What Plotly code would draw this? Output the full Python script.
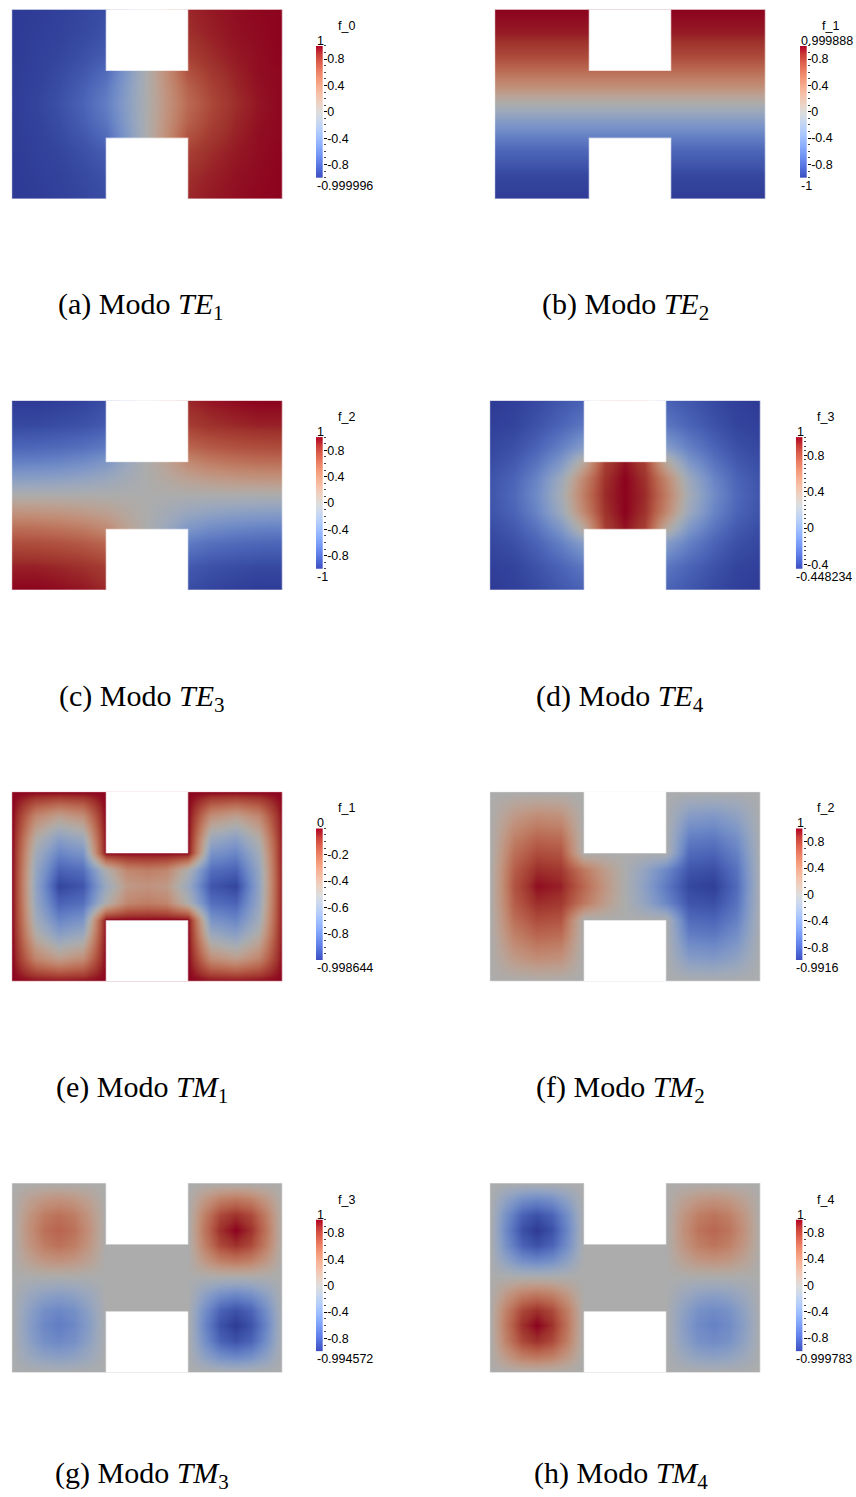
import plotly.graph_objects as go

FIG_W, FIG_H = 856, 1497

# ---------------- data ----------------
# sample positions of the field grid inside the H-shaped domain (270 x 189, y from top)
grid_x = [0, 24, 47, 71, 94, 115, 135, 155, 176, 199, 223, 246, 270]
grid_y = [0, 24, 47, 61, 78, 94, 111, 128, 142, 165, 189]
# finer sampling used for the two four-lobe modes (TM3, TM4)
grid_x_lobes = [0, 16, 32, 47, 62, 78, 94, 135, 176, 192, 208, 223, 238, 254, 270]
grid_y_lobes = [0, 16, 32, 47, 62, 78, 94, 111, 127, 142, 157, 173, 189]

# (a) Modo TE1  -- f_0
field_te1 = [
    [-1.00, -0.99, -0.97, -0.94, -0.90, -0.60, 0.00, 0.60, 0.90, 0.94, 0.97, 0.99, 1.00],
    [-1.00, -0.98, -0.96, -0.92, -0.87, -0.55, 0.00, 0.55, 0.87, 0.92, 0.96, 0.98, 1.00],
    [-1.00, -0.97, -0.94, -0.88, -0.80, -0.45, 0.00, 0.45, 0.80, 0.88, 0.94, 0.97, 1.00],
    [-0.99, -0.97, -0.92, -0.84, -0.72, -0.36, 0.00, 0.36, 0.72, 0.84, 0.92, 0.97, 0.99],
    [-0.99, -0.96, -0.90, -0.79, -0.63, -0.32, 0.00, 0.32, 0.63, 0.79, 0.90, 0.96, 0.99],
    [-0.99, -0.95, -0.88, -0.76, -0.58, -0.30, 0.00, 0.30, 0.58, 0.76, 0.88, 0.95, 0.99],
    [-0.99, -0.96, -0.90, -0.79, -0.63, -0.32, 0.00, 0.32, 0.63, 0.79, 0.90, 0.96, 0.99],
    [-0.99, -0.97, -0.92, -0.84, -0.72, -0.36, 0.00, 0.36, 0.72, 0.84, 0.92, 0.97, 0.99],
    [-1.00, -0.97, -0.94, -0.88, -0.80, -0.45, 0.00, 0.45, 0.80, 0.88, 0.94, 0.97, 1.00],
    [-1.00, -0.98, -0.96, -0.92, -0.87, -0.55, 0.00, 0.55, 0.87, 0.92, 0.96, 0.98, 1.00],
    [-1.00, -0.99, -0.97, -0.94, -0.90, -0.60, 0.00, 0.60, 0.90, 0.94, 0.97, 0.99, 1.00],
]

# (b) Modo TE2  -- f_1
field_te2 = [
    [1.00] * 13,
    [0.93] * 13,
    [0.75] * 13,
    [0.58] * 13,
    [0.32] * 13,
    [0.00] * 13,
    [-0.32] * 13,
    [-0.58] * 13,
    [-0.75] * 13,
    [-0.93] * 13,
    [-1.00] * 13,
]

# (c) Modo TE3  -- f_2
field_te3 = [
    [-1.00, -1.00, -0.98, -0.95, -0.90, -0.45, 0.00, 0.45, 0.90, 0.95, 0.98, 1.00, 1.00],
    [-0.92, -0.92, -0.90, -0.87, -0.82, -0.40, 0.00, 0.40, 0.82, 0.87, 0.90, 0.92, 0.92],
    [-0.74, -0.73, -0.71, -0.67, -0.60, -0.30, 0.00, 0.30, 0.60, 0.67, 0.71, 0.73, 0.74],
    [-0.57, -0.56, -0.53, -0.48, -0.38, -0.17, 0.00, 0.17, 0.38, 0.48, 0.53, 0.56, 0.57],
    [-0.30, -0.29, -0.27, -0.23, -0.17, -0.08, 0.00, 0.08, 0.17, 0.23, 0.27, 0.29, 0.30],
    [0.00, 0.00, 0.00, 0.00, 0.00, 0.00, 0.00, 0.00, 0.00, 0.00, 0.00, 0.00, 0.00],
    [0.30, 0.29, 0.27, 0.23, 0.17, 0.08, 0.00, -0.08, -0.17, -0.23, -0.27, -0.29, -0.30],
    [0.57, 0.56, 0.53, 0.48, 0.38, 0.17, 0.00, -0.17, -0.38, -0.48, -0.53, -0.56, -0.57],
    [0.74, 0.73, 0.71, 0.67, 0.60, 0.30, 0.00, -0.30, -0.60, -0.67, -0.71, -0.73, -0.74],
    [0.92, 0.92, 0.90, 0.87, 0.82, 0.40, 0.00, -0.40, -0.82, -0.87, -0.90, -0.92, -0.92],
    [1.00, 1.00, 0.98, 0.95, 0.90, 0.45, 0.00, -0.45, -0.90, -0.95, -0.98, -1.00, -1.00],
]

# (d) Modo TE4  -- f_3
field_te4 = [
    [-0.45, -0.43, -0.39, -0.33, -0.28, 0.60, 0.75, 0.60, -0.28, -0.33, -0.39, -0.43, -0.45],
    [-0.43, -0.41, -0.35, -0.27, -0.18, 0.60, 0.75, 0.60, -0.18, -0.27, -0.35, -0.41, -0.43],
    [-0.40, -0.36, -0.27, -0.13, 0.05, 0.70, 0.85, 0.70, 0.05, -0.13, -0.27, -0.36, -0.40],
    [-0.38, -0.32, -0.20, 0.00, 0.35, 0.86, 0.97, 0.86, 0.35, 0.00, -0.20, -0.32, -0.38],
    [-0.35, -0.27, -0.11, 0.17, 0.57, 0.90, 1.00, 0.90, 0.57, 0.17, -0.11, -0.27, -0.35],
    [-0.34, -0.25, -0.07, 0.22, 0.62, 0.92, 1.00, 0.92, 0.62, 0.22, -0.07, -0.25, -0.34],
    [-0.35, -0.27, -0.11, 0.17, 0.57, 0.90, 1.00, 0.90, 0.57, 0.17, -0.11, -0.27, -0.35],
    [-0.38, -0.32, -0.20, 0.00, 0.35, 0.86, 0.97, 0.86, 0.35, 0.00, -0.20, -0.32, -0.38],
    [-0.40, -0.36, -0.27, -0.13, 0.05, 0.70, 0.85, 0.70, 0.05, -0.13, -0.27, -0.36, -0.40],
    [-0.43, -0.41, -0.35, -0.27, -0.18, 0.60, 0.75, 0.60, -0.18, -0.27, -0.35, -0.41, -0.43],
    [-0.45, -0.43, -0.39, -0.33, -0.28, 0.60, 0.75, 0.60, -0.28, -0.33, -0.39, -0.43, -0.45],
]

# (e) Modo TM1  -- f_1
field_tm1 = [
    [0.00, 0.00, 0.00, 0.00, 0.00, 0.00, 0.00, 0.00, 0.00, 0.00, 0.00, 0.00, 0.00],
    [0.00, -0.30, -0.40, -0.33, 0.00, 0.00, 0.00, 0.00, 0.00, -0.33, -0.40, -0.30, 0.00],
    [0.00, -0.48, -0.65, -0.58, 0.00, 0.00, 0.00, 0.00, 0.00, -0.58, -0.65, -0.48, 0.00],
    [0.00, -0.55, -0.76, -0.70, 0.00, 0.00, 0.00, 0.00, 0.00, -0.70, -0.76, -0.55, 0.00],
    [0.00, -0.60, -0.88, -0.84, -0.50, -0.30, -0.27, -0.30, -0.50, -0.84, -0.88, -0.60, 0.00],
    [0.00, -0.62, -0.97, -0.92, -0.58, -0.38, -0.35, -0.38, -0.58, -0.92, -0.97, -0.62, 0.00],
    [0.00, -0.60, -0.88, -0.84, -0.50, -0.30, -0.27, -0.30, -0.50, -0.84, -0.88, -0.60, 0.00],
    [0.00, -0.55, -0.76, -0.70, 0.00, 0.00, 0.00, 0.00, 0.00, -0.70, -0.76, -0.55, 0.00],
    [0.00, -0.48, -0.65, -0.58, 0.00, 0.00, 0.00, 0.00, 0.00, -0.58, -0.65, -0.48, 0.00],
    [0.00, -0.30, -0.40, -0.33, 0.00, 0.00, 0.00, 0.00, 0.00, -0.33, -0.40, -0.30, 0.00],
    [0.00, 0.00, 0.00, 0.00, 0.00, 0.00, 0.00, 0.00, 0.00, 0.00, 0.00, 0.00, 0.00],
]

# (f) Modo TM2  -- f_2
field_tm2 = [
    [0.00, 0.00, 0.00, 0.00, 0.00, 0.00, 0.00, 0.00, 0.00, 0.00, 0.00, 0.00, 0.00],
    [0.00, 0.25, 0.36, 0.32, 0.00, 0.00, 0.00, 0.00, 0.00, -0.32, -0.36, -0.25, 0.00],
    [0.00, 0.45, 0.62, 0.58, 0.00, 0.00, 0.00, 0.00, 0.00, -0.58, -0.62, -0.45, 0.00],
    [0.00, 0.55, 0.74, 0.70, 0.00, 0.00, 0.00, 0.00, 0.00, -0.70, -0.74, -0.55, 0.00],
    [0.00, 0.65, 0.88, 0.84, 0.50, 0.22, 0.00, -0.22, -0.50, -0.84, -0.88, -0.65, 0.00],
    [0.00, 0.70, 0.97, 0.92, 0.60, 0.28, 0.00, -0.28, -0.60, -0.92, -0.97, -0.70, 0.00],
    [0.00, 0.65, 0.88, 0.84, 0.50, 0.22, 0.00, -0.22, -0.50, -0.84, -0.88, -0.65, 0.00],
    [0.00, 0.55, 0.74, 0.70, 0.00, 0.00, 0.00, 0.00, 0.00, -0.70, -0.74, -0.55, 0.00],
    [0.00, 0.45, 0.62, 0.58, 0.00, 0.00, 0.00, 0.00, 0.00, -0.58, -0.62, -0.45, 0.00],
    [0.00, 0.25, 0.36, 0.32, 0.00, 0.00, 0.00, 0.00, 0.00, -0.32, -0.36, -0.25, 0.00],
    [0.00, 0.00, 0.00, 0.00, 0.00, 0.00, 0.00, 0.00, 0.00, 0.00, 0.00, 0.00, 0.00],
]

# (g) Modo TM3  -- f_3   (on grid_x_lobes / grid_y_lobes)
field_tm3 = [
    [0.00, 0.00, 0.00, 0.00, 0.00, 0.00, 0.00, 0.00, 0.00, 0.00, 0.00, 0.00, 0.00, 0.00, 0.00],
    [0.00, 0.16, 0.27, 0.31, 0.27, 0.16, 0.00, 0.00, 0.00, 0.25, 0.44, 0.50, 0.44, 0.25, 0.00],
    [0.00, 0.27, 0.47, 0.54, 0.47, 0.27, 0.00, 0.00, 0.00, 0.44, 0.76, 0.87, 0.76, 0.44, 0.00],
    [0.00, 0.31, 0.54, 0.62, 0.54, 0.31, 0.00, 0.00, 0.00, 0.50, 0.87, 1.00, 0.87, 0.50, 0.00],
    [0.00, 0.27, 0.47, 0.54, 0.47, 0.27, 0.00, 0.00, 0.00, 0.44, 0.76, 0.87, 0.76, 0.44, 0.00],
    [0.00, 0.16, 0.27, 0.31, 0.27, 0.16, 0.00, 0.00, 0.00, 0.25, 0.44, 0.50, 0.44, 0.25, 0.00],
    [0.00, 0.00, 0.00, 0.00, 0.00, 0.00, 0.00, 0.00, 0.00, 0.00, 0.00, 0.00, 0.00, 0.00, 0.00],
    [0.00, -0.15, -0.25, -0.29, -0.25, -0.15, 0.00, 0.00, 0.00, -0.25, -0.43, -0.50, -0.43, -0.25, 0.00],
    [0.00, -0.25, -0.44, -0.50, -0.44, -0.25, 0.00, 0.00, 0.00, -0.43, -0.75, -0.86, -0.75, -0.43, 0.00],
    [0.00, -0.29, -0.50, -0.58, -0.50, -0.29, 0.00, 0.00, 0.00, -0.50, -0.86, -0.99, -0.86, -0.50, 0.00],
    [0.00, -0.25, -0.44, -0.50, -0.44, -0.25, 0.00, 0.00, 0.00, -0.43, -0.75, -0.86, -0.75, -0.43, 0.00],
    [0.00, -0.15, -0.25, -0.29, -0.25, -0.15, 0.00, 0.00, 0.00, -0.25, -0.43, -0.50, -0.43, -0.25, 0.00],
    [0.00, 0.00, 0.00, 0.00, 0.00, 0.00, 0.00, 0.00, 0.00, 0.00, 0.00, 0.00, 0.00, 0.00, 0.00],
]

# (h) Modo TM4  -- f_4   (on grid_x_lobes / grid_y_lobes)
field_tm4 = [
    [0.00, 0.00, 0.00, 0.00, 0.00, 0.00, 0.00, 0.00, 0.00, 0.00, 0.00, 0.00, 0.00, 0.00, 0.00],
    [0.00, -0.25, -0.44, -0.50, -0.44, -0.25, 0.00, 0.00, 0.00, 0.15, 0.26, 0.30, 0.26, 0.15, 0.00],
    [0.00, -0.44, -0.76, -0.87, -0.76, -0.44, 0.00, 0.00, 0.00, 0.26, 0.45, 0.52, 0.45, 0.26, 0.00],
    [0.00, -0.50, -0.87, -1.00, -0.87, -0.50, 0.00, 0.00, 0.00, 0.30, 0.52, 0.60, 0.52, 0.30, 0.00],
    [0.00, -0.44, -0.76, -0.87, -0.76, -0.44, 0.00, 0.00, 0.00, 0.26, 0.45, 0.52, 0.45, 0.26, 0.00],
    [0.00, -0.25, -0.44, -0.50, -0.44, -0.25, 0.00, 0.00, 0.00, 0.15, 0.26, 0.30, 0.26, 0.15, 0.00],
    [0.00, 0.00, 0.00, 0.00, 0.00, 0.00, 0.00, 0.00, 0.00, 0.00, 0.00, 0.00, 0.00, 0.00, 0.00],
    [0.00, 0.25, 0.44, 0.50, 0.44, 0.25, 0.00, 0.00, 0.00, -0.14, -0.24, -0.28, -0.24, -0.14, 0.00],
    [0.00, 0.44, 0.76, 0.87, 0.76, 0.44, 0.00, 0.00, 0.00, -0.24, -0.42, -0.48, -0.42, -0.24, 0.00],
    [0.00, 0.50, 0.87, 1.00, 0.87, 0.50, 0.00, 0.00, 0.00, -0.28, -0.48, -0.55, -0.48, -0.28, 0.00],
    [0.00, 0.44, 0.76, 0.87, 0.76, 0.44, 0.00, 0.00, 0.00, -0.24, -0.42, -0.48, -0.42, -0.24, 0.00],
    [0.00, 0.25, 0.44, 0.50, 0.44, 0.25, 0.00, 0.00, 0.00, -0.14, -0.24, -0.28, -0.24, -0.14, 0.00],
    [0.00, 0.00, 0.00, 0.00, 0.00, 0.00, 0.00, 0.00, 0.00, 0.00, 0.00, 0.00, 0.00, 0.00, 0.00],
]

fields = [field_te1, field_te2, field_te3, field_te4,
          field_tm1, field_tm2, field_tm3, field_tm4]
fields_x = [grid_x] * 6 + [grid_x_lobes] * 2
fields_y = [grid_y] * 6 + [grid_y_lobes] * 2
field_names = ["f_0", "f_1", "f_2", "f_3", "f_1", "f_2", "f_3", "f_4"]
range_min = [-0.999996, -1.0, -1.0, -0.448234, -0.998644, -0.9916, -0.994572, -0.999783]
range_max = [1.0, 0.999888, 1.0, 1.0, 0.0, 1.0, 1.0, 1.0]
label_min = ["-0.999996", "-1", "-1", "-0.448234", "-0.998644", "-0.9916", "-0.994572", "-0.999783"]
label_max = ["1", "0.999888", "1", "1", "0", "1", "1", "1"]
tick_vals = [
    [-0.8, -0.4, 0, 0.4, 0.8],
    [-0.8, -0.4, 0, 0.4, 0.8],
    [-0.8, -0.4, 0, 0.4, 0.8],
    [-0.4, 0, 0.4, 0.8],
    [-0.8, -0.6, -0.4, -0.2],
    [-0.8, -0.4, 0, 0.4, 0.8],
    [-0.8, -0.4, 0, 0.4, 0.8],
    [-0.8, -0.4, 0, 0.4, 0.8],
]
tick_text = [
    ["-0.8", "-0.4", "0", "0.4", "0.8"],
    ["-0.8", "-0.4", "0", "0.4", "0.8"],
    ["-0.8", "-0.4", "0", "0.4", "0.8"],
    ["-0.4", "0", "0.4", "0.8"],
    ["-0.8", "-0.6", "-0.4", "-0.2"],
    ["-0.8", "-0.4", "0", "0.4", "0.8"],
    ["-0.8", "-0.4", "0", "0.4", "0.8"],
    ["-0.8", "-0.4", "0", "0.4", "0.8"],
]
caption_letters = ["a", "b", "c", "d", "e", "f", "g", "h"]
caption_modes = ["TE", "TE", "TE", "TE", "TM", "TM", "TM", "TM"]
caption_index = ["1", "2", "3", "4", "1", "2", "3", "4"]

# ---------------- style / layout ----------------
# ParaView "Cool to Warm" samples
cool_warm_rgb = [
    (59, 76, 192), (77, 104, 215), (98, 130, 234), (119, 154, 247),
    (141, 176, 254), (163, 194, 255), (184, 208, 249), (204, 217, 238),
    (221, 221, 221), (236, 211, 197), (245, 196, 173), (247, 177, 148),
    (244, 154, 123), (236, 127, 99), (222, 96, 77), (203, 62, 56),
    (180, 4, 38),
]
SHADE = 0.78


def make_scale(shade):
    n = len(cool_warm_rgb) - 1
    return [[k / n, "rgb(%d,%d,%d)" % tuple(round(c * shade) for c in rgb)]
            for k, rgb in enumerate(cool_warm_rgb)]


scale_surface = make_scale(SHADE)
scale_bar = make_scale(1.0)

# pixel boxes: (left, top) of the H, bar left
panel_left = [11.7, 494.7, 11.7, 489.7, 11.7, 489.7, 11.7, 489.7]
panel_top = [9.3, 9.3, 401.3, 401.3, 793.3, 793.3, 1185.3, 1185.3]
bar_left = [316.0, 800.0, 316.0, 795.8, 316.0, 795.8, 316.0, 795.8]
bar_top = [46.0, 46.0, 438.0, 438.0, 830.0, 830.0, 1222.0, 1222.0]
caption_x = [141.0, 625.0, 141.5, 620.0, 141.5, 620.0, 141.5, 620.5]
caption_y = [307.0, 307.0, 699.0, 699.0, 1091.0, 1091.0, 1477.5, 1477.5]
minor_step = [0.1, 0.1, 0.1, 0.05, 0.05, 0.1, 0.1, 0.1]

PW, PH = 270.6, 190.0
BAR_W, BAR_H = 6.7, 132.0
NOTCH_L, NOTCH_R, CONN_T, CONN_B = 94.3, 175.7, 61.0, 128.5
DOM_W, DOM_H = 270.0, 189.0


def px_x(v):
    return v / FIG_W


def px_y(v):
    return 1 - v / FIG_H


fig = go.Figure()
layout = {}
shapes = []
annotations = []
label_font = dict(family="Liberation Sans, Arial, sans-serif", size=12.5, color="#000")

for i in range(8):
    hx, cb = 2 * i + 1, 2 * i + 2
    hxn = "x" if hx == 1 else "x%d" % hx
    hyn = "y" if hx == 1 else "y%d" % hx
    cxn, cyn = "x%d" % cb, "y%d" % cb
    hxk = "xaxis" if hx == 1 else "xaxis%d" % hx
    hyk = "yaxis" if hx == 1 else "yaxis%d" % hx

    fig.add_trace(go.Heatmap(
        x=fields_x[i], y=fields_y[i], z=fields[i], zmin=range_min[i], zmax=range_max[i],
        colorscale=scale_surface, zsmooth="best", showscale=False,
        hoverinfo="skip", xaxis=hxn, yaxis=hyn))
    layout[hxk] = dict(domain=[px_x(panel_left[i]), px_x(panel_left[i] + PW)],
                       range=[0, DOM_W], visible=False, anchor=hyn, fixedrange=True)
    layout[hyk] = dict(domain=[px_y(panel_top[i] + PH), px_y(panel_top[i])],
                       range=[DOM_H, 0], visible=False, anchor=hxn, fixedrange=True)

    for y0, y1 in ((-3, CONN_T), (CONN_B, DOM_H + 3)):
        shapes.append(dict(type="rect", xref=hxn, yref=hyn, x0=NOTCH_L, x1=NOTCH_R,
                           y0=y0, y1=y1, fillcolor="white", line=dict(width=0),
                           layer="above"))
    path = ("M0,0 L{l},0 L{l},{t} L{r},{t} L{r},0 L{w},0 L{w},{h} L{r},{h} "
            "L{r},{b} L{l},{b} L{l},{h} L0,{h} Z").format(
        l=NOTCH_L, r=NOTCH_R, t=CONN_T, b=CONN_B, w=DOM_W, h=DOM_H)
    shapes.append(dict(type="path", xref=hxn, yref=hyn, path=path,
                       line=dict(color="rgba(255,255,255,0.55)", width=1.2),
                       layer="above"))

    # colour bar
    fig.add_trace(go.Heatmap(
        x=[0, 1], y=[range_min[i], range_max[i]],
        z=[[range_min[i], range_min[i]], [range_max[i], range_max[i]]],
        zmin=range_min[i], zmax=range_max[i], colorscale=scale_bar,
        zsmooth="best", showscale=False, hoverinfo="skip", xaxis=cxn, yaxis=cyn))
    layout["xaxis%d" % cb] = dict(domain=[px_x(bar_left[i]), px_x(bar_left[i] + BAR_W)],
                                  range=[0, 1], visible=False, anchor=cyn, fixedrange=True)
    layout["yaxis%d" % cb] = dict(
        domain=[px_y(bar_top[i] + BAR_H), px_y(bar_top[i])],
        range=[range_min[i], range_max[i]], anchor=cxn, side="right",
        tickmode="array", tickvals=tick_vals[i], ticktext=tick_text[i],
        ticks="outside", ticklen=3, tickwidth=1, tickcolor="#000",
        ticklabelstandoff=-2,
        tickfont=label_font, showgrid=False, zeroline=False, showline=False,
        minor=dict(ticks="outside", ticklen=2, tickwidth=1, tickcolor="#444",
                   dtick=minor_step[i], tick0=0, showgrid=False),
        fixedrange=True)

    annotations.append(dict(text=field_names[i], xref="paper", yref="paper",
                            x=px_x(bar_left[i] + 30), y=px_y(bar_top[i] - 20),
                            xanchor="center", yanchor="middle", showarrow=False,
                            font=label_font))
    annotations.append(dict(text=label_max[i], xref="paper", yref="paper",
                            x=px_x(bar_left[i] - 1), y=px_y(bar_top[i] - 5),
                            xanchor="left", yanchor="middle", showarrow=False,
                            font=label_font))
    annotations.append(dict(text=label_min[i], xref="paper", yref="paper",
                            x=px_x(bar_left[i] - 1.5), y=px_y(bar_top[i] + BAR_H + 8),
                            xanchor="left", yanchor="middle", showarrow=False,
                            font=label_font))
    annotations.append(dict(
        text="(%s) Modo <i>%s</i><sub>%s</sub>" % (caption_letters[i], caption_modes[i],
                                                   caption_index[i]),
        xref="paper", yref="paper", x=px_x(caption_x[i]), y=px_y(caption_y[i]),
        xanchor="center", yanchor="middle", showarrow=False, borderpad=0,
        font=dict(family="Liberation Serif, Times New Roman, serif", size=30, color="#000")))

fig.update_layout(
    width=FIG_W, height=FIG_H, margin=dict(l=0, r=0, t=0, b=0),
    paper_bgcolor="white", plot_bgcolor="white", showlegend=False,
    shapes=shapes, annotations=annotations, **layout)

fig.write_html("out.html")
